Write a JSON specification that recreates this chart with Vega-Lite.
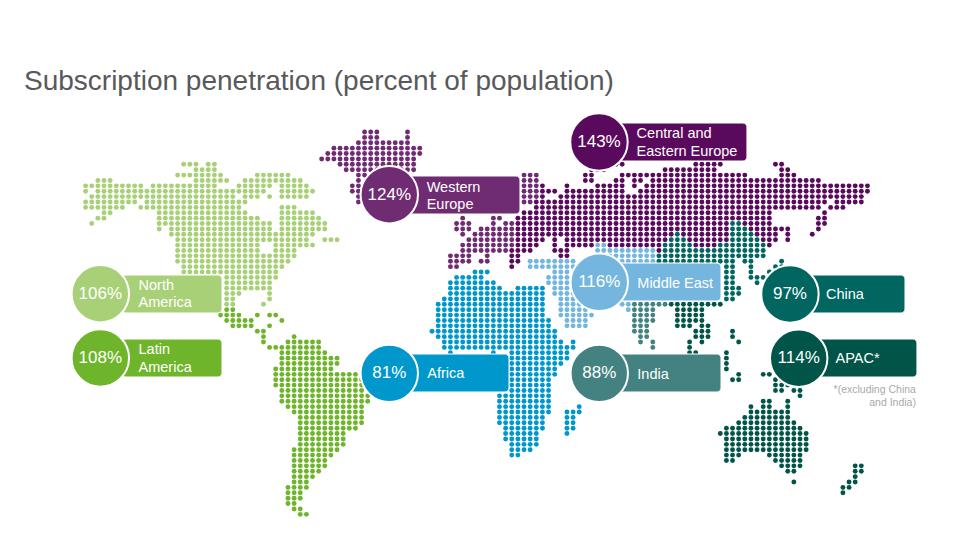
{"$schema":"https://vega.github.io/schema/vega-lite/v6.json","width":970,"height":546,"padding":0,"autosize":{"type":"none"},"background":"white","config":{"view":{"stroke":null},"font":"Liberation Sans"},"title":{"text":"Subscription penetration (percent of population)","anchor":"start","frame":"group","orient":"top","offset":-118,"dx":24,"baseline":"alphabetic","font":"Liberation Sans","fontSize":28,"fontWeight":"normal","color":"#58595b"},"datasets":{"NA":[{"c":16,"r":6},{"c":17,"r":6},{"c":18,"r":6},{"c":20,"r":6},{"c":21,"r":6},{"c":18,"r":7},{"c":19,"r":7},{"c":20,"r":7},{"c":21,"r":7},{"c":15,"r":8},{"c":16,"r":8},{"c":17,"r":8},{"c":18,"r":8},{"c":19,"r":8},{"c":20,"r":8},{"c":21,"r":8},{"c":22,"r":8},{"c":28,"r":8},{"c":29,"r":8},{"c":30,"r":8},{"c":31,"r":8},{"c":32,"r":8},{"c":33,"r":8},{"c":2,"r":9},{"c":3,"r":9},{"c":4,"r":9},{"c":18,"r":9},{"c":19,"r":9},{"c":20,"r":9},{"c":21,"r":9},{"c":22,"r":9},{"c":23,"r":9},{"c":26,"r":9},{"c":27,"r":9},{"c":28,"r":9},{"c":29,"r":9},{"c":30,"r":9},{"c":31,"r":9},{"c":32,"r":9},{"c":33,"r":9},{"c":34,"r":9},{"c":35,"r":9},{"c":0,"r":10},{"c":1,"r":10},{"c":2,"r":10},{"c":3,"r":10},{"c":4,"r":10},{"c":5,"r":10},{"c":6,"r":10},{"c":7,"r":10},{"c":8,"r":10},{"c":9,"r":10},{"c":11,"r":10},{"c":12,"r":10},{"c":13,"r":10},{"c":14,"r":10},{"c":15,"r":10},{"c":16,"r":10},{"c":17,"r":10},{"c":18,"r":10},{"c":19,"r":10},{"c":20,"r":10},{"c":21,"r":10},{"c":25,"r":10},{"c":26,"r":10},{"c":27,"r":10},{"c":28,"r":10},{"c":29,"r":10},{"c":30,"r":10},{"c":32,"r":10},{"c":33,"r":10},{"c":34,"r":10},{"c":35,"r":10},{"c":36,"r":10},{"c":0,"r":11},{"c":2,"r":11},{"c":3,"r":11},{"c":4,"r":11},{"c":5,"r":11},{"c":6,"r":11},{"c":7,"r":11},{"c":8,"r":11},{"c":9,"r":11},{"c":10,"r":11},{"c":11,"r":11},{"c":12,"r":11},{"c":13,"r":11},{"c":14,"r":11},{"c":15,"r":11},{"c":16,"r":11},{"c":17,"r":11},{"c":18,"r":11},{"c":19,"r":11},{"c":20,"r":11},{"c":21,"r":11},{"c":22,"r":11},{"c":23,"r":11},{"c":24,"r":11},{"c":25,"r":11},{"c":26,"r":11},{"c":27,"r":11},{"c":28,"r":11},{"c":29,"r":11},{"c":32,"r":11},{"c":33,"r":11},{"c":34,"r":11},{"c":35,"r":11},{"c":36,"r":11},{"c":37,"r":11},{"c":1,"r":12},{"c":2,"r":12},{"c":3,"r":12},{"c":4,"r":12},{"c":5,"r":12},{"c":6,"r":12},{"c":7,"r":12},{"c":8,"r":12},{"c":9,"r":12},{"c":10,"r":12},{"c":11,"r":12},{"c":12,"r":12},{"c":13,"r":12},{"c":14,"r":12},{"c":15,"r":12},{"c":16,"r":12},{"c":17,"r":12},{"c":18,"r":12},{"c":19,"r":12},{"c":20,"r":12},{"c":21,"r":12},{"c":22,"r":12},{"c":23,"r":12},{"c":24,"r":12},{"c":26,"r":12},{"c":27,"r":12},{"c":28,"r":12},{"c":30,"r":12},{"c":32,"r":12},{"c":33,"r":12},{"c":34,"r":12},{"c":35,"r":12},{"c":36,"r":12},{"c":0,"r":13},{"c":1,"r":13},{"c":2,"r":13},{"c":3,"r":13},{"c":4,"r":13},{"c":5,"r":13},{"c":6,"r":13},{"c":7,"r":13},{"c":8,"r":13},{"c":10,"r":13},{"c":11,"r":13},{"c":12,"r":13},{"c":13,"r":13},{"c":14,"r":13},{"c":15,"r":13},{"c":16,"r":13},{"c":17,"r":13},{"c":18,"r":13},{"c":19,"r":13},{"c":20,"r":13},{"c":21,"r":13},{"c":22,"r":13},{"c":23,"r":13},{"c":24,"r":13},{"c":25,"r":13},{"c":26,"r":13},{"c":0,"r":14},{"c":1,"r":14},{"c":2,"r":14},{"c":3,"r":14},{"c":4,"r":14},{"c":5,"r":14},{"c":6,"r":14},{"c":9,"r":14},{"c":10,"r":14},{"c":11,"r":14},{"c":12,"r":14},{"c":13,"r":14},{"c":14,"r":14},{"c":15,"r":14},{"c":16,"r":14},{"c":17,"r":14},{"c":18,"r":14},{"c":19,"r":14},{"c":20,"r":14},{"c":21,"r":14},{"c":22,"r":14},{"c":23,"r":14},{"c":24,"r":14},{"c":25,"r":14},{"c":32,"r":14},{"c":33,"r":14},{"c":34,"r":14},{"c":3,"r":15},{"c":4,"r":15},{"c":12,"r":15},{"c":13,"r":15},{"c":14,"r":15},{"c":15,"r":15},{"c":16,"r":15},{"c":17,"r":15},{"c":18,"r":15},{"c":19,"r":15},{"c":20,"r":15},{"c":21,"r":15},{"c":22,"r":15},{"c":23,"r":15},{"c":24,"r":15},{"c":25,"r":15},{"c":26,"r":15},{"c":32,"r":15},{"c":33,"r":15},{"c":34,"r":15},{"c":35,"r":15},{"c":36,"r":15},{"c":37,"r":15},{"c":2,"r":16},{"c":3,"r":16},{"c":12,"r":16},{"c":13,"r":16},{"c":14,"r":16},{"c":15,"r":16},{"c":16,"r":16},{"c":17,"r":16},{"c":18,"r":16},{"c":19,"r":16},{"c":20,"r":16},{"c":21,"r":16},{"c":22,"r":16},{"c":23,"r":16},{"c":24,"r":16},{"c":25,"r":16},{"c":26,"r":16},{"c":27,"r":16},{"c":28,"r":16},{"c":32,"r":16},{"c":33,"r":16},{"c":34,"r":16},{"c":35,"r":16},{"c":36,"r":16},{"c":37,"r":16},{"c":38,"r":16},{"c":1,"r":17},{"c":12,"r":17},{"c":13,"r":17},{"c":14,"r":17},{"c":15,"r":17},{"c":16,"r":17},{"c":17,"r":17},{"c":18,"r":17},{"c":19,"r":17},{"c":20,"r":17},{"c":21,"r":17},{"c":22,"r":17},{"c":23,"r":17},{"c":24,"r":17},{"c":25,"r":17},{"c":26,"r":17},{"c":27,"r":17},{"c":28,"r":17},{"c":29,"r":17},{"c":30,"r":17},{"c":32,"r":17},{"c":33,"r":17},{"c":34,"r":17},{"c":35,"r":17},{"c":36,"r":17},{"c":37,"r":17},{"c":38,"r":17},{"c":39,"r":17},{"c":12,"r":18},{"c":14,"r":18},{"c":15,"r":18},{"c":16,"r":18},{"c":17,"r":18},{"c":18,"r":18},{"c":19,"r":18},{"c":20,"r":18},{"c":21,"r":18},{"c":22,"r":18},{"c":23,"r":18},{"c":24,"r":18},{"c":25,"r":18},{"c":26,"r":18},{"c":27,"r":18},{"c":28,"r":18},{"c":29,"r":18},{"c":30,"r":18},{"c":32,"r":18},{"c":33,"r":18},{"c":34,"r":18},{"c":35,"r":18},{"c":36,"r":18},{"c":37,"r":18},{"c":38,"r":18},{"c":39,"r":18},{"c":14,"r":19},{"c":15,"r":19},{"c":16,"r":19},{"c":17,"r":19},{"c":18,"r":19},{"c":19,"r":19},{"c":20,"r":19},{"c":21,"r":19},{"c":22,"r":19},{"c":23,"r":19},{"c":24,"r":19},{"c":25,"r":19},{"c":26,"r":19},{"c":27,"r":19},{"c":28,"r":19},{"c":29,"r":19},{"c":30,"r":19},{"c":31,"r":19},{"c":32,"r":19},{"c":33,"r":19},{"c":34,"r":19},{"c":35,"r":19},{"c":36,"r":19},{"c":37,"r":19},{"c":15,"r":20},{"c":16,"r":20},{"c":17,"r":20},{"c":18,"r":20},{"c":19,"r":20},{"c":20,"r":20},{"c":21,"r":20},{"c":22,"r":20},{"c":23,"r":20},{"c":24,"r":20},{"c":25,"r":20},{"c":26,"r":20},{"c":27,"r":20},{"c":28,"r":20},{"c":29,"r":20},{"c":30,"r":20},{"c":31,"r":20},{"c":32,"r":20},{"c":33,"r":20},{"c":34,"r":20},{"c":35,"r":20},{"c":36,"r":20},{"c":39,"r":20},{"c":40,"r":20},{"c":41,"r":20},{"c":15,"r":21},{"c":16,"r":21},{"c":17,"r":21},{"c":18,"r":21},{"c":19,"r":21},{"c":20,"r":21},{"c":21,"r":21},{"c":22,"r":21},{"c":23,"r":21},{"c":24,"r":21},{"c":25,"r":21},{"c":26,"r":21},{"c":27,"r":21},{"c":28,"r":21},{"c":31,"r":21},{"c":32,"r":21},{"c":33,"r":21},{"c":34,"r":21},{"c":35,"r":21},{"c":36,"r":21},{"c":37,"r":21},{"c":15,"r":22},{"c":16,"r":22},{"c":17,"r":22},{"c":18,"r":22},{"c":19,"r":22},{"c":20,"r":22},{"c":21,"r":22},{"c":22,"r":22},{"c":23,"r":22},{"c":24,"r":22},{"c":25,"r":22},{"c":26,"r":22},{"c":27,"r":22},{"c":28,"r":22},{"c":31,"r":22},{"c":32,"r":22},{"c":33,"r":22},{"c":34,"r":22},{"c":15,"r":23},{"c":16,"r":23},{"c":17,"r":23},{"c":18,"r":23},{"c":19,"r":23},{"c":20,"r":23},{"c":21,"r":23},{"c":22,"r":23},{"c":23,"r":23},{"c":24,"r":23},{"c":25,"r":23},{"c":26,"r":23},{"c":27,"r":23},{"c":28,"r":23},{"c":29,"r":23},{"c":30,"r":23},{"c":31,"r":23},{"c":32,"r":23},{"c":33,"r":23},{"c":34,"r":23},{"c":15,"r":24},{"c":16,"r":24},{"c":17,"r":24},{"c":18,"r":24},{"c":19,"r":24},{"c":20,"r":24},{"c":21,"r":24},{"c":22,"r":24},{"c":23,"r":24},{"c":24,"r":24},{"c":25,"r":24},{"c":26,"r":24},{"c":27,"r":24},{"c":28,"r":24},{"c":29,"r":24},{"c":30,"r":24},{"c":31,"r":24},{"c":32,"r":24},{"c":33,"r":24},{"c":16,"r":25},{"c":17,"r":25},{"c":18,"r":25},{"c":19,"r":25},{"c":20,"r":25},{"c":21,"r":25},{"c":22,"r":25},{"c":23,"r":25},{"c":24,"r":25},{"c":25,"r":25},{"c":26,"r":25},{"c":27,"r":25},{"c":28,"r":25},{"c":29,"r":25},{"c":30,"r":25},{"c":31,"r":25},{"c":32,"r":25},{"c":16,"r":26},{"c":17,"r":26},{"c":18,"r":26},{"c":19,"r":26},{"c":20,"r":26},{"c":21,"r":26},{"c":22,"r":26},{"c":23,"r":26},{"c":24,"r":26},{"c":25,"r":26},{"c":26,"r":26},{"c":27,"r":26},{"c":28,"r":26},{"c":29,"r":26},{"c":30,"r":26},{"c":31,"r":26},{"c":23,"r":27},{"c":24,"r":27},{"c":25,"r":27},{"c":26,"r":27},{"c":27,"r":27},{"c":28,"r":27},{"c":29,"r":27},{"c":30,"r":27},{"c":31,"r":27},{"c":23,"r":28},{"c":24,"r":28},{"c":25,"r":28},{"c":26,"r":28},{"c":27,"r":28},{"c":28,"r":28},{"c":29,"r":28},{"c":30,"r":28},{"c":23,"r":29},{"c":24,"r":29},{"c":25,"r":29},{"c":26,"r":29},{"c":27,"r":29},{"c":28,"r":29},{"c":29,"r":29},{"c":30,"r":29},{"c":23,"r":30},{"c":24,"r":30},{"c":25,"r":30},{"c":30,"r":30},{"c":23,"r":31},{"c":24,"r":31},{"c":30,"r":31},{"c":23,"r":32},{"c":24,"r":32},{"c":29,"r":32}],"LA":[{"c":23,"r":33},{"c":24,"r":33},{"c":22,"r":34},{"c":23,"r":34},{"c":24,"r":34},{"c":25,"r":34},{"c":28,"r":34},{"c":30,"r":34},{"c":31,"r":34},{"c":23,"r":35},{"c":24,"r":35},{"c":25,"r":35},{"c":26,"r":35},{"c":27,"r":35},{"c":32,"r":35},{"c":24,"r":36},{"c":25,"r":36},{"c":26,"r":36},{"c":27,"r":36},{"c":30,"r":36},{"c":28,"r":37},{"c":29,"r":37},{"c":29,"r":38},{"c":34,"r":38},{"c":29,"r":39},{"c":33,"r":39},{"c":34,"r":39},{"c":35,"r":39},{"c":36,"r":39},{"c":37,"r":39},{"c":38,"r":39},{"c":30,"r":40},{"c":31,"r":40},{"c":32,"r":40},{"c":33,"r":40},{"c":34,"r":40},{"c":35,"r":40},{"c":36,"r":40},{"c":37,"r":40},{"c":38,"r":40},{"c":32,"r":41},{"c":33,"r":41},{"c":34,"r":41},{"c":35,"r":41},{"c":36,"r":41},{"c":37,"r":41},{"c":38,"r":41},{"c":39,"r":41},{"c":32,"r":42},{"c":33,"r":42},{"c":34,"r":42},{"c":35,"r":42},{"c":36,"r":42},{"c":37,"r":42},{"c":38,"r":42},{"c":39,"r":42},{"c":40,"r":42},{"c":41,"r":42},{"c":32,"r":43},{"c":33,"r":43},{"c":34,"r":43},{"c":35,"r":43},{"c":36,"r":43},{"c":37,"r":43},{"c":38,"r":43},{"c":39,"r":43},{"c":40,"r":43},{"c":41,"r":43},{"c":31,"r":44},{"c":32,"r":44},{"c":33,"r":44},{"c":34,"r":44},{"c":35,"r":44},{"c":36,"r":44},{"c":37,"r":44},{"c":38,"r":44},{"c":39,"r":44},{"c":40,"r":44},{"c":31,"r":45},{"c":32,"r":45},{"c":33,"r":45},{"c":34,"r":45},{"c":35,"r":45},{"c":36,"r":45},{"c":37,"r":45},{"c":38,"r":45},{"c":39,"r":45},{"c":40,"r":45},{"c":41,"r":45},{"c":42,"r":45},{"c":43,"r":45},{"c":44,"r":45},{"c":31,"r":46},{"c":32,"r":46},{"c":33,"r":46},{"c":34,"r":46},{"c":35,"r":46},{"c":36,"r":46},{"c":37,"r":46},{"c":38,"r":46},{"c":39,"r":46},{"c":40,"r":46},{"c":41,"r":46},{"c":42,"r":46},{"c":43,"r":46},{"c":44,"r":46},{"c":45,"r":46},{"c":31,"r":47},{"c":32,"r":47},{"c":33,"r":47},{"c":34,"r":47},{"c":35,"r":47},{"c":36,"r":47},{"c":37,"r":47},{"c":38,"r":47},{"c":39,"r":47},{"c":40,"r":47},{"c":41,"r":47},{"c":42,"r":47},{"c":43,"r":47},{"c":44,"r":47},{"c":45,"r":47},{"c":32,"r":48},{"c":33,"r":48},{"c":34,"r":48},{"c":35,"r":48},{"c":36,"r":48},{"c":37,"r":48},{"c":38,"r":48},{"c":39,"r":48},{"c":40,"r":48},{"c":41,"r":48},{"c":42,"r":48},{"c":43,"r":48},{"c":44,"r":48},{"c":45,"r":48},{"c":32,"r":49},{"c":33,"r":49},{"c":34,"r":49},{"c":35,"r":49},{"c":36,"r":49},{"c":37,"r":49},{"c":38,"r":49},{"c":39,"r":49},{"c":40,"r":49},{"c":41,"r":49},{"c":42,"r":49},{"c":43,"r":49},{"c":44,"r":49},{"c":45,"r":49},{"c":46,"r":49},{"c":32,"r":50},{"c":33,"r":50},{"c":34,"r":50},{"c":35,"r":50},{"c":36,"r":50},{"c":37,"r":50},{"c":38,"r":50},{"c":39,"r":50},{"c":40,"r":50},{"c":41,"r":50},{"c":42,"r":50},{"c":43,"r":50},{"c":44,"r":50},{"c":45,"r":50},{"c":46,"r":50},{"c":33,"r":51},{"c":34,"r":51},{"c":35,"r":51},{"c":36,"r":51},{"c":37,"r":51},{"c":38,"r":51},{"c":39,"r":51},{"c":40,"r":51},{"c":41,"r":51},{"c":42,"r":51},{"c":43,"r":51},{"c":44,"r":51},{"c":45,"r":51},{"c":34,"r":52},{"c":35,"r":52},{"c":36,"r":52},{"c":37,"r":52},{"c":38,"r":52},{"c":39,"r":52},{"c":40,"r":52},{"c":41,"r":52},{"c":42,"r":52},{"c":43,"r":52},{"c":44,"r":52},{"c":45,"r":52},{"c":35,"r":53},{"c":36,"r":53},{"c":37,"r":53},{"c":38,"r":53},{"c":39,"r":53},{"c":40,"r":53},{"c":41,"r":53},{"c":42,"r":53},{"c":43,"r":53},{"c":44,"r":53},{"c":45,"r":53},{"c":35,"r":54},{"c":36,"r":54},{"c":37,"r":54},{"c":38,"r":54},{"c":39,"r":54},{"c":40,"r":54},{"c":41,"r":54},{"c":42,"r":54},{"c":43,"r":54},{"c":44,"r":54},{"c":45,"r":54},{"c":35,"r":55},{"c":36,"r":55},{"c":37,"r":55},{"c":38,"r":55},{"c":39,"r":55},{"c":40,"r":55},{"c":41,"r":55},{"c":42,"r":55},{"c":43,"r":55},{"c":44,"r":55},{"c":35,"r":56},{"c":36,"r":56},{"c":37,"r":56},{"c":38,"r":56},{"c":39,"r":56},{"c":40,"r":56},{"c":41,"r":56},{"c":42,"r":56},{"c":35,"r":57},{"c":36,"r":57},{"c":37,"r":57},{"c":38,"r":57},{"c":39,"r":57},{"c":40,"r":57},{"c":41,"r":57},{"c":42,"r":57},{"c":35,"r":58},{"c":36,"r":58},{"c":37,"r":58},{"c":38,"r":58},{"c":39,"r":58},{"c":40,"r":58},{"c":41,"r":58},{"c":42,"r":58},{"c":34,"r":59},{"c":35,"r":59},{"c":36,"r":59},{"c":37,"r":59},{"c":38,"r":59},{"c":39,"r":59},{"c":40,"r":59},{"c":41,"r":59},{"c":34,"r":60},{"c":35,"r":60},{"c":36,"r":60},{"c":37,"r":60},{"c":38,"r":60},{"c":39,"r":60},{"c":40,"r":60},{"c":34,"r":61},{"c":35,"r":61},{"c":36,"r":61},{"c":37,"r":61},{"c":38,"r":61},{"c":39,"r":61},{"c":34,"r":62},{"c":35,"r":62},{"c":36,"r":62},{"c":37,"r":62},{"c":38,"r":62},{"c":39,"r":62},{"c":34,"r":63},{"c":35,"r":63},{"c":36,"r":63},{"c":37,"r":63},{"c":38,"r":63},{"c":34,"r":64},{"c":35,"r":64},{"c":36,"r":64},{"c":37,"r":64},{"c":34,"r":65},{"c":35,"r":65},{"c":36,"r":65},{"c":33,"r":66},{"c":34,"r":66},{"c":35,"r":66},{"c":36,"r":66},{"c":33,"r":67},{"c":34,"r":67},{"c":35,"r":67},{"c":33,"r":68},{"c":34,"r":68},{"c":35,"r":68},{"c":33,"r":69},{"c":34,"r":69},{"c":34,"r":70},{"c":35,"r":70},{"c":35,"r":71},{"c":36,"r":71}],"WE":[{"c":45,"r":0},{"c":46,"r":0},{"c":47,"r":0},{"c":52,"r":0},{"c":45,"r":1},{"c":46,"r":1},{"c":47,"r":1},{"c":52,"r":1},{"c":44,"r":2},{"c":45,"r":2},{"c":46,"r":2},{"c":47,"r":2},{"c":48,"r":2},{"c":49,"r":2},{"c":50,"r":2},{"c":51,"r":2},{"c":52,"r":2},{"c":40,"r":3},{"c":41,"r":3},{"c":42,"r":3},{"c":43,"r":3},{"c":44,"r":3},{"c":45,"r":3},{"c":46,"r":3},{"c":47,"r":3},{"c":48,"r":3},{"c":49,"r":3},{"c":50,"r":3},{"c":51,"r":3},{"c":52,"r":3},{"c":53,"r":3},{"c":54,"r":3},{"c":39,"r":4},{"c":40,"r":4},{"c":41,"r":4},{"c":42,"r":4},{"c":43,"r":4},{"c":44,"r":4},{"c":45,"r":4},{"c":46,"r":4},{"c":47,"r":4},{"c":48,"r":4},{"c":49,"r":4},{"c":50,"r":4},{"c":51,"r":4},{"c":52,"r":4},{"c":53,"r":4},{"c":54,"r":4},{"c":38,"r":5},{"c":39,"r":5},{"c":40,"r":5},{"c":41,"r":5},{"c":42,"r":5},{"c":43,"r":5},{"c":44,"r":5},{"c":45,"r":5},{"c":46,"r":5},{"c":47,"r":5},{"c":48,"r":5},{"c":49,"r":5},{"c":50,"r":5},{"c":51,"r":5},{"c":52,"r":5},{"c":53,"r":5},{"c":41,"r":6},{"c":42,"r":6},{"c":43,"r":6},{"c":44,"r":6},{"c":45,"r":6},{"c":46,"r":6},{"c":47,"r":6},{"c":48,"r":6},{"c":49,"r":6},{"c":50,"r":6},{"c":51,"r":6},{"c":52,"r":6},{"c":53,"r":6},{"c":42,"r":7},{"c":43,"r":7},{"c":44,"r":7},{"c":45,"r":7},{"c":46,"r":7},{"c":47,"r":7},{"c":51,"r":7},{"c":52,"r":7},{"c":53,"r":7},{"c":44,"r":8},{"c":45,"r":8},{"c":71,"r":8},{"c":72,"r":8},{"c":73,"r":8},{"c":44,"r":9},{"c":71,"r":9},{"c":72,"r":9},{"c":73,"r":9},{"c":43,"r":10},{"c":44,"r":10},{"c":71,"r":10},{"c":72,"r":10},{"c":73,"r":10},{"c":43,"r":11},{"c":44,"r":11},{"c":71,"r":11},{"c":72,"r":11},{"c":73,"r":11},{"c":44,"r":12},{"c":71,"r":12},{"c":72,"r":12},{"c":73,"r":12},{"c":44,"r":13},{"c":71,"r":13},{"c":72,"r":13},{"c":61,"r":16},{"c":66,"r":16},{"c":67,"r":16},{"c":60,"r":17},{"c":61,"r":17},{"c":62,"r":17},{"c":66,"r":17},{"c":68,"r":17},{"c":69,"r":17},{"c":60,"r":18},{"c":61,"r":18},{"c":62,"r":18},{"c":64,"r":18},{"c":65,"r":18},{"c":66,"r":18},{"c":67,"r":18},{"c":68,"r":18},{"c":69,"r":18},{"c":61,"r":19},{"c":63,"r":19},{"c":64,"r":19},{"c":65,"r":19},{"c":66,"r":19},{"c":67,"r":19},{"c":68,"r":19},{"c":69,"r":19},{"c":62,"r":20},{"c":63,"r":20},{"c":64,"r":20},{"c":65,"r":20},{"c":66,"r":20},{"c":67,"r":20},{"c":68,"r":20},{"c":69,"r":20},{"c":61,"r":21},{"c":62,"r":21},{"c":63,"r":21},{"c":64,"r":21},{"c":65,"r":21},{"c":66,"r":21},{"c":67,"r":21},{"c":68,"r":21},{"c":69,"r":21},{"c":61,"r":22},{"c":62,"r":22},{"c":63,"r":22},{"c":64,"r":22},{"c":65,"r":22},{"c":66,"r":22},{"c":67,"r":22},{"c":68,"r":22},{"c":59,"r":23},{"c":60,"r":23},{"c":61,"r":23},{"c":62,"r":23},{"c":65,"r":23},{"c":59,"r":24},{"c":60,"r":24},{"c":61,"r":24},{"c":62,"r":24},{"c":64,"r":24},{"c":65,"r":24},{"c":59,"r":25},{"c":60,"r":25}],"AF":[{"c":63,"r":26},{"c":64,"r":26},{"c":65,"r":26},{"c":60,"r":27},{"c":61,"r":27},{"c":62,"r":27},{"c":63,"r":27},{"c":64,"r":27},{"c":59,"r":28},{"c":60,"r":28},{"c":61,"r":28},{"c":62,"r":28},{"c":63,"r":28},{"c":64,"r":28},{"c":65,"r":28},{"c":66,"r":28},{"c":59,"r":29},{"c":60,"r":29},{"c":61,"r":29},{"c":62,"r":29},{"c":63,"r":29},{"c":64,"r":29},{"c":65,"r":29},{"c":66,"r":29},{"c":67,"r":29},{"c":70,"r":29},{"c":71,"r":29},{"c":72,"r":29},{"c":73,"r":29},{"c":74,"r":29},{"c":59,"r":30},{"c":60,"r":30},{"c":61,"r":30},{"c":62,"r":30},{"c":63,"r":30},{"c":64,"r":30},{"c":65,"r":30},{"c":66,"r":30},{"c":67,"r":30},{"c":68,"r":30},{"c":69,"r":30},{"c":70,"r":30},{"c":71,"r":30},{"c":72,"r":30},{"c":73,"r":30},{"c":74,"r":30},{"c":58,"r":31},{"c":59,"r":31},{"c":60,"r":31},{"c":61,"r":31},{"c":62,"r":31},{"c":63,"r":31},{"c":64,"r":31},{"c":65,"r":31},{"c":66,"r":31},{"c":67,"r":31},{"c":68,"r":31},{"c":69,"r":31},{"c":70,"r":31},{"c":71,"r":31},{"c":72,"r":31},{"c":73,"r":31},{"c":74,"r":31},{"c":57,"r":32},{"c":58,"r":32},{"c":59,"r":32},{"c":60,"r":32},{"c":61,"r":32},{"c":62,"r":32},{"c":63,"r":32},{"c":64,"r":32},{"c":65,"r":32},{"c":66,"r":32},{"c":67,"r":32},{"c":68,"r":32},{"c":69,"r":32},{"c":70,"r":32},{"c":71,"r":32},{"c":72,"r":32},{"c":73,"r":32},{"c":74,"r":32},{"c":57,"r":33},{"c":58,"r":33},{"c":59,"r":33},{"c":60,"r":33},{"c":61,"r":33},{"c":62,"r":33},{"c":63,"r":33},{"c":64,"r":33},{"c":65,"r":33},{"c":66,"r":33},{"c":67,"r":33},{"c":68,"r":33},{"c":69,"r":33},{"c":70,"r":33},{"c":71,"r":33},{"c":72,"r":33},{"c":73,"r":33},{"c":74,"r":33},{"c":57,"r":34},{"c":58,"r":34},{"c":59,"r":34},{"c":60,"r":34},{"c":61,"r":34},{"c":62,"r":34},{"c":63,"r":34},{"c":64,"r":34},{"c":65,"r":34},{"c":66,"r":34},{"c":67,"r":34},{"c":68,"r":34},{"c":69,"r":34},{"c":70,"r":34},{"c":71,"r":34},{"c":72,"r":34},{"c":73,"r":34},{"c":74,"r":34},{"c":57,"r":35},{"c":58,"r":35},{"c":59,"r":35},{"c":60,"r":35},{"c":61,"r":35},{"c":62,"r":35},{"c":63,"r":35},{"c":64,"r":35},{"c":65,"r":35},{"c":66,"r":35},{"c":67,"r":35},{"c":68,"r":35},{"c":69,"r":35},{"c":70,"r":35},{"c":71,"r":35},{"c":72,"r":35},{"c":73,"r":35},{"c":74,"r":35},{"c":75,"r":35},{"c":57,"r":36},{"c":58,"r":36},{"c":59,"r":36},{"c":60,"r":36},{"c":61,"r":36},{"c":62,"r":36},{"c":63,"r":36},{"c":64,"r":36},{"c":65,"r":36},{"c":66,"r":36},{"c":67,"r":36},{"c":68,"r":36},{"c":69,"r":36},{"c":70,"r":36},{"c":71,"r":36},{"c":72,"r":36},{"c":73,"r":36},{"c":74,"r":36},{"c":75,"r":36},{"c":56,"r":37},{"c":57,"r":37},{"c":58,"r":37},{"c":59,"r":37},{"c":60,"r":37},{"c":61,"r":37},{"c":62,"r":37},{"c":63,"r":37},{"c":64,"r":37},{"c":65,"r":37},{"c":66,"r":37},{"c":67,"r":37},{"c":68,"r":37},{"c":69,"r":37},{"c":70,"r":37},{"c":71,"r":37},{"c":72,"r":37},{"c":73,"r":37},{"c":74,"r":37},{"c":75,"r":37},{"c":76,"r":37},{"c":57,"r":38},{"c":58,"r":38},{"c":59,"r":38},{"c":60,"r":38},{"c":61,"r":38},{"c":62,"r":38},{"c":63,"r":38},{"c":64,"r":38},{"c":65,"r":38},{"c":66,"r":38},{"c":67,"r":38},{"c":68,"r":38},{"c":69,"r":38},{"c":70,"r":38},{"c":71,"r":38},{"c":72,"r":38},{"c":73,"r":38},{"c":74,"r":38},{"c":75,"r":38},{"c":76,"r":38},{"c":58,"r":39},{"c":59,"r":39},{"c":60,"r":39},{"c":61,"r":39},{"c":62,"r":39},{"c":63,"r":39},{"c":64,"r":39},{"c":65,"r":39},{"c":66,"r":39},{"c":67,"r":39},{"c":68,"r":39},{"c":69,"r":39},{"c":70,"r":39},{"c":71,"r":39},{"c":72,"r":39},{"c":73,"r":39},{"c":74,"r":39},{"c":75,"r":39},{"c":76,"r":39},{"c":77,"r":39},{"c":79,"r":39},{"c":58,"r":40},{"c":59,"r":40},{"c":60,"r":40},{"c":61,"r":40},{"c":62,"r":40},{"c":63,"r":40},{"c":64,"r":40},{"c":65,"r":40},{"c":66,"r":40},{"c":67,"r":40},{"c":68,"r":40},{"c":69,"r":40},{"c":70,"r":40},{"c":71,"r":40},{"c":72,"r":40},{"c":73,"r":40},{"c":74,"r":40},{"c":75,"r":40},{"c":76,"r":40},{"c":77,"r":40},{"c":78,"r":40},{"c":79,"r":40},{"c":59,"r":41},{"c":66,"r":41},{"c":69,"r":41},{"c":70,"r":41},{"c":71,"r":41},{"c":72,"r":41},{"c":73,"r":41},{"c":74,"r":41},{"c":75,"r":41},{"c":76,"r":41},{"c":77,"r":41},{"c":78,"r":41},{"c":69,"r":42},{"c":70,"r":42},{"c":71,"r":42},{"c":72,"r":42},{"c":73,"r":42},{"c":74,"r":42},{"c":75,"r":42},{"c":76,"r":42},{"c":77,"r":42},{"c":78,"r":42},{"c":69,"r":43},{"c":70,"r":43},{"c":71,"r":43},{"c":72,"r":43},{"c":73,"r":43},{"c":74,"r":43},{"c":75,"r":43},{"c":76,"r":43},{"c":77,"r":43},{"c":69,"r":44},{"c":70,"r":44},{"c":71,"r":44},{"c":72,"r":44},{"c":73,"r":44},{"c":74,"r":44},{"c":75,"r":44},{"c":76,"r":44},{"c":69,"r":45},{"c":70,"r":45},{"c":71,"r":45},{"c":72,"r":45},{"c":73,"r":45},{"c":74,"r":45},{"c":75,"r":45},{"c":76,"r":45},{"c":69,"r":46},{"c":70,"r":46},{"c":71,"r":46},{"c":72,"r":46},{"c":73,"r":46},{"c":74,"r":46},{"c":75,"r":46},{"c":69,"r":47},{"c":70,"r":47},{"c":71,"r":47},{"c":72,"r":47},{"c":73,"r":47},{"c":74,"r":47},{"c":75,"r":47},{"c":69,"r":48},{"c":70,"r":48},{"c":71,"r":48},{"c":72,"r":48},{"c":73,"r":48},{"c":74,"r":48},{"c":75,"r":48},{"c":67,"r":49},{"c":68,"r":49},{"c":69,"r":49},{"c":70,"r":49},{"c":71,"r":49},{"c":72,"r":49},{"c":73,"r":49},{"c":74,"r":49},{"c":75,"r":49},{"c":67,"r":50},{"c":68,"r":50},{"c":69,"r":50},{"c":70,"r":50},{"c":71,"r":50},{"c":72,"r":50},{"c":73,"r":50},{"c":74,"r":50},{"c":75,"r":50},{"c":67,"r":51},{"c":68,"r":51},{"c":69,"r":51},{"c":70,"r":51},{"c":71,"r":51},{"c":72,"r":51},{"c":73,"r":51},{"c":74,"r":51},{"c":75,"r":51},{"c":80,"r":51},{"c":67,"r":52},{"c":68,"r":52},{"c":69,"r":52},{"c":70,"r":52},{"c":71,"r":52},{"c":72,"r":52},{"c":73,"r":52},{"c":74,"r":52},{"c":75,"r":52},{"c":78,"r":52},{"c":79,"r":52},{"c":80,"r":52},{"c":67,"r":53},{"c":68,"r":53},{"c":69,"r":53},{"c":70,"r":53},{"c":71,"r":53},{"c":72,"r":53},{"c":73,"r":53},{"c":74,"r":53},{"c":78,"r":53},{"c":79,"r":53},{"c":67,"r":54},{"c":68,"r":54},{"c":69,"r":54},{"c":70,"r":54},{"c":71,"r":54},{"c":72,"r":54},{"c":73,"r":54},{"c":74,"r":54},{"c":78,"r":54},{"c":79,"r":54},{"c":68,"r":55},{"c":69,"r":55},{"c":70,"r":55},{"c":71,"r":55},{"c":72,"r":55},{"c":73,"r":55},{"c":74,"r":55},{"c":78,"r":55},{"c":79,"r":55},{"c":68,"r":56},{"c":69,"r":56},{"c":70,"r":56},{"c":71,"r":56},{"c":72,"r":56},{"c":73,"r":56},{"c":78,"r":56},{"c":68,"r":57},{"c":69,"r":57},{"c":70,"r":57},{"c":71,"r":57},{"c":72,"r":57},{"c":73,"r":57},{"c":69,"r":58},{"c":70,"r":58},{"c":71,"r":58},{"c":72,"r":58},{"c":73,"r":58},{"c":69,"r":59},{"c":70,"r":59},{"c":71,"r":59},{"c":72,"r":59},{"c":69,"r":60},{"c":70,"r":60}],"ME":[{"c":83,"r":21},{"c":84,"r":21},{"c":83,"r":22},{"c":84,"r":22},{"c":85,"r":22},{"c":86,"r":22},{"c":87,"r":22},{"c":88,"r":22},{"c":89,"r":22},{"c":90,"r":22},{"c":91,"r":22},{"c":92,"r":22},{"c":83,"r":23},{"c":84,"r":23},{"c":85,"r":23},{"c":86,"r":23},{"c":87,"r":23},{"c":88,"r":23},{"c":89,"r":23},{"c":90,"r":23},{"c":91,"r":23},{"c":92,"r":23},{"c":72,"r":24},{"c":73,"r":24},{"c":74,"r":24},{"c":75,"r":24},{"c":76,"r":24},{"c":77,"r":24},{"c":78,"r":24},{"c":79,"r":24},{"c":85,"r":24},{"c":86,"r":24},{"c":87,"r":24},{"c":88,"r":24},{"c":89,"r":24},{"c":90,"r":24},{"c":91,"r":24},{"c":92,"r":24},{"c":72,"r":25},{"c":73,"r":25},{"c":74,"r":25},{"c":75,"r":25},{"c":76,"r":25},{"c":77,"r":25},{"c":78,"r":25},{"c":79,"r":25},{"c":76,"r":26},{"c":77,"r":26},{"c":78,"r":26},{"c":75,"r":27},{"c":76,"r":27},{"c":77,"r":27},{"c":78,"r":27},{"c":75,"r":28},{"c":76,"r":28},{"c":77,"r":28},{"c":78,"r":28},{"c":76,"r":29},{"c":77,"r":29},{"c":78,"r":29},{"c":76,"r":30},{"c":77,"r":30},{"c":78,"r":30},{"c":79,"r":30},{"c":77,"r":31},{"c":78,"r":31},{"c":79,"r":31},{"c":77,"r":32},{"c":78,"r":32},{"c":79,"r":32},{"c":80,"r":32},{"c":87,"r":32},{"c":88,"r":32},{"c":77,"r":33},{"c":78,"r":33},{"c":79,"r":33},{"c":80,"r":33},{"c":81,"r":33},{"c":88,"r":33},{"c":77,"r":34},{"c":78,"r":34},{"c":79,"r":34},{"c":80,"r":34},{"c":81,"r":34},{"c":82,"r":34},{"c":78,"r":35},{"c":79,"r":35},{"c":80,"r":35},{"c":81,"r":35},{"c":78,"r":36},{"c":79,"r":36},{"c":80,"r":36},{"c":81,"r":36}],"IN":[{"c":89,"r":32},{"c":90,"r":32},{"c":91,"r":32},{"c":92,"r":32},{"c":93,"r":32},{"c":94,"r":32},{"c":89,"r":33},{"c":90,"r":33},{"c":91,"r":33},{"c":92,"r":33},{"c":89,"r":34},{"c":90,"r":34},{"c":91,"r":34},{"c":92,"r":34},{"c":89,"r":35},{"c":90,"r":35},{"c":91,"r":35},{"c":92,"r":35},{"c":89,"r":36},{"c":90,"r":36},{"c":91,"r":36},{"c":89,"r":37},{"c":90,"r":37},{"c":91,"r":37},{"c":90,"r":38},{"c":91,"r":38},{"c":90,"r":39},{"c":92,"r":39},{"c":92,"r":40}],"CN":[{"c":105,"r":17},{"c":106,"r":17},{"c":105,"r":18},{"c":106,"r":18},{"c":107,"r":18},{"c":96,"r":19},{"c":105,"r":19},{"c":106,"r":19},{"c":107,"r":19},{"c":108,"r":19},{"c":95,"r":20},{"c":96,"r":20},{"c":97,"r":20},{"c":105,"r":20},{"c":106,"r":20},{"c":107,"r":20},{"c":108,"r":20},{"c":109,"r":20},{"c":94,"r":21},{"c":95,"r":21},{"c":96,"r":21},{"c":97,"r":21},{"c":98,"r":21},{"c":103,"r":21},{"c":104,"r":21},{"c":105,"r":21},{"c":106,"r":21},{"c":107,"r":21},{"c":108,"r":21},{"c":109,"r":21},{"c":110,"r":21},{"c":94,"r":22},{"c":95,"r":22},{"c":96,"r":22},{"c":97,"r":22},{"c":98,"r":22},{"c":99,"r":22},{"c":100,"r":22},{"c":101,"r":22},{"c":102,"r":22},{"c":103,"r":22},{"c":104,"r":22},{"c":105,"r":22},{"c":106,"r":22},{"c":107,"r":22},{"c":108,"r":22},{"c":109,"r":22},{"c":110,"r":22},{"c":93,"r":23},{"c":94,"r":23},{"c":95,"r":23},{"c":96,"r":23},{"c":97,"r":23},{"c":98,"r":23},{"c":99,"r":23},{"c":100,"r":23},{"c":101,"r":23},{"c":102,"r":23},{"c":103,"r":23},{"c":104,"r":23},{"c":105,"r":23},{"c":106,"r":23},{"c":107,"r":23},{"c":108,"r":23},{"c":109,"r":23},{"c":110,"r":23},{"c":93,"r":24},{"c":94,"r":24},{"c":95,"r":24},{"c":96,"r":24},{"c":97,"r":24},{"c":98,"r":24},{"c":99,"r":24},{"c":100,"r":24},{"c":101,"r":24},{"c":102,"r":24},{"c":103,"r":24},{"c":104,"r":24},{"c":105,"r":24},{"c":107,"r":24},{"c":108,"r":24},{"c":113,"r":24},{"c":104,"r":25},{"c":105,"r":25},{"c":108,"r":25},{"c":112,"r":25},{"c":113,"r":25},{"c":104,"r":26},{"c":105,"r":26},{"c":108,"r":26},{"c":111,"r":26},{"c":112,"r":26},{"c":104,"r":27},{"c":105,"r":27},{"c":108,"r":27},{"c":109,"r":27},{"c":110,"r":27},{"c":104,"r":28},{"c":105,"r":28},{"c":109,"r":28},{"c":104,"r":29},{"c":105,"r":29},{"c":106,"r":29},{"c":104,"r":30},{"c":105,"r":30},{"c":106,"r":30},{"c":104,"r":31},{"c":105,"r":31}],"CE":[{"c":85,"r":6},{"c":86,"r":6},{"c":87,"r":6},{"c":99,"r":6},{"c":100,"r":6},{"c":101,"r":6},{"c":102,"r":6},{"c":103,"r":6},{"c":112,"r":6},{"c":113,"r":6},{"c":82,"r":7},{"c":83,"r":7},{"c":84,"r":7},{"c":94,"r":7},{"c":95,"r":7},{"c":96,"r":7},{"c":97,"r":7},{"c":98,"r":7},{"c":99,"r":7},{"c":100,"r":7},{"c":101,"r":7},{"c":102,"r":7},{"c":113,"r":7},{"c":114,"r":7},{"c":81,"r":8},{"c":82,"r":8},{"c":87,"r":8},{"c":88,"r":8},{"c":89,"r":8},{"c":90,"r":8},{"c":91,"r":8},{"c":92,"r":8},{"c":93,"r":8},{"c":94,"r":8},{"c":95,"r":8},{"c":96,"r":8},{"c":97,"r":8},{"c":98,"r":8},{"c":99,"r":8},{"c":100,"r":8},{"c":101,"r":8},{"c":102,"r":8},{"c":103,"r":8},{"c":104,"r":8},{"c":105,"r":8},{"c":106,"r":8},{"c":107,"r":8},{"c":113,"r":8},{"c":114,"r":8},{"c":115,"r":8},{"c":81,"r":9},{"c":82,"r":9},{"c":86,"r":9},{"c":87,"r":9},{"c":89,"r":9},{"c":90,"r":9},{"c":92,"r":9},{"c":93,"r":9},{"c":94,"r":9},{"c":95,"r":9},{"c":96,"r":9},{"c":97,"r":9},{"c":98,"r":9},{"c":99,"r":9},{"c":100,"r":9},{"c":101,"r":9},{"c":102,"r":9},{"c":103,"r":9},{"c":104,"r":9},{"c":105,"r":9},{"c":106,"r":9},{"c":107,"r":9},{"c":108,"r":9},{"c":109,"r":9},{"c":110,"r":9},{"c":111,"r":9},{"c":112,"r":9},{"c":113,"r":9},{"c":114,"r":9},{"c":115,"r":9},{"c":116,"r":9},{"c":117,"r":9},{"c":118,"r":9},{"c":119,"r":9},{"c":74,"r":10},{"c":78,"r":10},{"c":83,"r":10},{"c":84,"r":10},{"c":85,"r":10},{"c":86,"r":10},{"c":87,"r":10},{"c":89,"r":10},{"c":91,"r":10},{"c":92,"r":10},{"c":93,"r":10},{"c":94,"r":10},{"c":95,"r":10},{"c":96,"r":10},{"c":97,"r":10},{"c":98,"r":10},{"c":99,"r":10},{"c":100,"r":10},{"c":101,"r":10},{"c":102,"r":10},{"c":103,"r":10},{"c":104,"r":10},{"c":105,"r":10},{"c":106,"r":10},{"c":107,"r":10},{"c":108,"r":10},{"c":109,"r":10},{"c":110,"r":10},{"c":111,"r":10},{"c":112,"r":10},{"c":113,"r":10},{"c":114,"r":10},{"c":115,"r":10},{"c":116,"r":10},{"c":117,"r":10},{"c":118,"r":10},{"c":119,"r":10},{"c":120,"r":10},{"c":121,"r":10},{"c":122,"r":10},{"c":123,"r":10},{"c":124,"r":10},{"c":125,"r":10},{"c":126,"r":10},{"c":127,"r":10},{"c":74,"r":11},{"c":75,"r":11},{"c":76,"r":11},{"c":78,"r":11},{"c":79,"r":11},{"c":80,"r":11},{"c":81,"r":11},{"c":82,"r":11},{"c":83,"r":11},{"c":84,"r":11},{"c":85,"r":11},{"c":86,"r":11},{"c":87,"r":11},{"c":90,"r":11},{"c":91,"r":11},{"c":92,"r":11},{"c":93,"r":11},{"c":94,"r":11},{"c":95,"r":11},{"c":96,"r":11},{"c":97,"r":11},{"c":98,"r":11},{"c":99,"r":11},{"c":100,"r":11},{"c":101,"r":11},{"c":102,"r":11},{"c":103,"r":11},{"c":104,"r":11},{"c":105,"r":11},{"c":106,"r":11},{"c":107,"r":11},{"c":108,"r":11},{"c":109,"r":11},{"c":110,"r":11},{"c":111,"r":11},{"c":112,"r":11},{"c":113,"r":11},{"c":114,"r":11},{"c":115,"r":11},{"c":116,"r":11},{"c":117,"r":11},{"c":118,"r":11},{"c":119,"r":11},{"c":120,"r":11},{"c":121,"r":11},{"c":122,"r":11},{"c":123,"r":11},{"c":124,"r":11},{"c":125,"r":11},{"c":126,"r":11},{"c":127,"r":11},{"c":74,"r":12},{"c":77,"r":12},{"c":78,"r":12},{"c":79,"r":12},{"c":80,"r":12},{"c":81,"r":12},{"c":82,"r":12},{"c":83,"r":12},{"c":84,"r":12},{"c":85,"r":12},{"c":86,"r":12},{"c":87,"r":12},{"c":88,"r":12},{"c":89,"r":12},{"c":90,"r":12},{"c":91,"r":12},{"c":92,"r":12},{"c":93,"r":12},{"c":94,"r":12},{"c":95,"r":12},{"c":96,"r":12},{"c":97,"r":12},{"c":98,"r":12},{"c":99,"r":12},{"c":100,"r":12},{"c":101,"r":12},{"c":102,"r":12},{"c":103,"r":12},{"c":104,"r":12},{"c":105,"r":12},{"c":106,"r":12},{"c":107,"r":12},{"c":108,"r":12},{"c":109,"r":12},{"c":110,"r":12},{"c":111,"r":12},{"c":112,"r":12},{"c":113,"r":12},{"c":114,"r":12},{"c":115,"r":12},{"c":116,"r":12},{"c":117,"r":12},{"c":118,"r":12},{"c":119,"r":12},{"c":120,"r":12},{"c":121,"r":12},{"c":122,"r":12},{"c":123,"r":12},{"c":124,"r":12},{"c":125,"r":12},{"c":126,"r":12},{"c":73,"r":13},{"c":74,"r":13},{"c":75,"r":13},{"c":76,"r":13},{"c":77,"r":13},{"c":78,"r":13},{"c":79,"r":13},{"c":80,"r":13},{"c":81,"r":13},{"c":82,"r":13},{"c":83,"r":13},{"c":84,"r":13},{"c":85,"r":13},{"c":86,"r":13},{"c":87,"r":13},{"c":88,"r":13},{"c":89,"r":13},{"c":90,"r":13},{"c":91,"r":13},{"c":92,"r":13},{"c":93,"r":13},{"c":94,"r":13},{"c":95,"r":13},{"c":96,"r":13},{"c":97,"r":13},{"c":98,"r":13},{"c":99,"r":13},{"c":100,"r":13},{"c":101,"r":13},{"c":102,"r":13},{"c":103,"r":13},{"c":104,"r":13},{"c":105,"r":13},{"c":106,"r":13},{"c":107,"r":13},{"c":108,"r":13},{"c":109,"r":13},{"c":110,"r":13},{"c":111,"r":13},{"c":112,"r":13},{"c":113,"r":13},{"c":114,"r":13},{"c":115,"r":13},{"c":116,"r":13},{"c":117,"r":13},{"c":118,"r":13},{"c":119,"r":13},{"c":120,"r":13},{"c":122,"r":13},{"c":123,"r":13},{"c":124,"r":13},{"c":125,"r":13},{"c":126,"r":13},{"c":73,"r":14},{"c":74,"r":14},{"c":75,"r":14},{"c":76,"r":14},{"c":77,"r":14},{"c":78,"r":14},{"c":79,"r":14},{"c":80,"r":14},{"c":81,"r":14},{"c":82,"r":14},{"c":83,"r":14},{"c":84,"r":14},{"c":85,"r":14},{"c":86,"r":14},{"c":87,"r":14},{"c":88,"r":14},{"c":89,"r":14},{"c":90,"r":14},{"c":91,"r":14},{"c":92,"r":14},{"c":93,"r":14},{"c":94,"r":14},{"c":95,"r":14},{"c":96,"r":14},{"c":97,"r":14},{"c":98,"r":14},{"c":99,"r":14},{"c":100,"r":14},{"c":101,"r":14},{"c":102,"r":14},{"c":103,"r":14},{"c":104,"r":14},{"c":105,"r":14},{"c":106,"r":14},{"c":107,"r":14},{"c":108,"r":14},{"c":109,"r":14},{"c":110,"r":14},{"c":111,"r":14},{"c":112,"r":14},{"c":113,"r":14},{"c":114,"r":14},{"c":115,"r":14},{"c":116,"r":14},{"c":117,"r":14},{"c":118,"r":14},{"c":119,"r":14},{"c":121,"r":14},{"c":122,"r":14},{"c":123,"r":14},{"c":71,"r":15},{"c":72,"r":15},{"c":73,"r":15},{"c":74,"r":15},{"c":75,"r":15},{"c":76,"r":15},{"c":77,"r":15},{"c":78,"r":15},{"c":79,"r":15},{"c":80,"r":15},{"c":81,"r":15},{"c":82,"r":15},{"c":83,"r":15},{"c":84,"r":15},{"c":85,"r":15},{"c":86,"r":15},{"c":87,"r":15},{"c":88,"r":15},{"c":89,"r":15},{"c":90,"r":15},{"c":91,"r":15},{"c":92,"r":15},{"c":93,"r":15},{"c":94,"r":15},{"c":95,"r":15},{"c":96,"r":15},{"c":97,"r":15},{"c":98,"r":15},{"c":99,"r":15},{"c":100,"r":15},{"c":101,"r":15},{"c":102,"r":15},{"c":103,"r":15},{"c":104,"r":15},{"c":105,"r":15},{"c":106,"r":15},{"c":107,"r":15},{"c":108,"r":15},{"c":109,"r":15},{"c":110,"r":15},{"c":111,"r":15},{"c":120,"r":15},{"c":70,"r":16},{"c":71,"r":16},{"c":72,"r":16},{"c":73,"r":16},{"c":74,"r":16},{"c":75,"r":16},{"c":76,"r":16},{"c":77,"r":16},{"c":78,"r":16},{"c":79,"r":16},{"c":80,"r":16},{"c":81,"r":16},{"c":82,"r":16},{"c":83,"r":16},{"c":84,"r":16},{"c":85,"r":16},{"c":86,"r":16},{"c":87,"r":16},{"c":88,"r":16},{"c":89,"r":16},{"c":90,"r":16},{"c":91,"r":16},{"c":92,"r":16},{"c":93,"r":16},{"c":94,"r":16},{"c":95,"r":16},{"c":96,"r":16},{"c":97,"r":16},{"c":98,"r":16},{"c":99,"r":16},{"c":100,"r":16},{"c":101,"r":16},{"c":102,"r":16},{"c":103,"r":16},{"c":104,"r":16},{"c":105,"r":16},{"c":106,"r":16},{"c":107,"r":16},{"c":108,"r":16},{"c":109,"r":16},{"c":110,"r":16},{"c":111,"r":16},{"c":119,"r":16},{"c":120,"r":16},{"c":70,"r":17},{"c":71,"r":17},{"c":72,"r":17},{"c":73,"r":17},{"c":74,"r":17},{"c":75,"r":17},{"c":76,"r":17},{"c":77,"r":17},{"c":78,"r":17},{"c":79,"r":17},{"c":80,"r":17},{"c":81,"r":17},{"c":82,"r":17},{"c":83,"r":17},{"c":84,"r":17},{"c":85,"r":17},{"c":86,"r":17},{"c":87,"r":17},{"c":88,"r":17},{"c":89,"r":17},{"c":90,"r":17},{"c":91,"r":17},{"c":92,"r":17},{"c":93,"r":17},{"c":94,"r":17},{"c":95,"r":17},{"c":96,"r":17},{"c":97,"r":17},{"c":98,"r":17},{"c":99,"r":17},{"c":100,"r":17},{"c":101,"r":17},{"c":102,"r":17},{"c":103,"r":17},{"c":104,"r":17},{"c":107,"r":17},{"c":108,"r":17},{"c":109,"r":17},{"c":110,"r":17},{"c":111,"r":17},{"c":119,"r":17},{"c":120,"r":17},{"c":70,"r":18},{"c":71,"r":18},{"c":72,"r":18},{"c":73,"r":18},{"c":74,"r":18},{"c":75,"r":18},{"c":76,"r":18},{"c":77,"r":18},{"c":78,"r":18},{"c":79,"r":18},{"c":80,"r":18},{"c":81,"r":18},{"c":82,"r":18},{"c":83,"r":18},{"c":84,"r":18},{"c":85,"r":18},{"c":86,"r":18},{"c":87,"r":18},{"c":88,"r":18},{"c":89,"r":18},{"c":90,"r":18},{"c":91,"r":18},{"c":92,"r":18},{"c":93,"r":18},{"c":94,"r":18},{"c":95,"r":18},{"c":96,"r":18},{"c":97,"r":18},{"c":98,"r":18},{"c":99,"r":18},{"c":100,"r":18},{"c":101,"r":18},{"c":102,"r":18},{"c":103,"r":18},{"c":104,"r":18},{"c":108,"r":18},{"c":109,"r":18},{"c":110,"r":18},{"c":111,"r":18},{"c":112,"r":18},{"c":113,"r":18},{"c":114,"r":18},{"c":119,"r":18},{"c":70,"r":19},{"c":71,"r":19},{"c":72,"r":19},{"c":73,"r":19},{"c":74,"r":19},{"c":75,"r":19},{"c":76,"r":19},{"c":77,"r":19},{"c":78,"r":19},{"c":79,"r":19},{"c":80,"r":19},{"c":81,"r":19},{"c":82,"r":19},{"c":83,"r":19},{"c":84,"r":19},{"c":85,"r":19},{"c":86,"r":19},{"c":87,"r":19},{"c":88,"r":19},{"c":89,"r":19},{"c":90,"r":19},{"c":91,"r":19},{"c":92,"r":19},{"c":93,"r":19},{"c":94,"r":19},{"c":95,"r":19},{"c":97,"r":19},{"c":98,"r":19},{"c":99,"r":19},{"c":100,"r":19},{"c":101,"r":19},{"c":102,"r":19},{"c":103,"r":19},{"c":104,"r":19},{"c":109,"r":19},{"c":110,"r":19},{"c":111,"r":19},{"c":112,"r":19},{"c":114,"r":19},{"c":118,"r":19},{"c":70,"r":20},{"c":71,"r":20},{"c":72,"r":20},{"c":73,"r":20},{"c":74,"r":20},{"c":76,"r":20},{"c":78,"r":20},{"c":79,"r":20},{"c":80,"r":20},{"c":81,"r":20},{"c":82,"r":20},{"c":83,"r":20},{"c":84,"r":20},{"c":85,"r":20},{"c":86,"r":20},{"c":87,"r":20},{"c":88,"r":20},{"c":89,"r":20},{"c":90,"r":20},{"c":91,"r":20},{"c":92,"r":20},{"c":93,"r":20},{"c":94,"r":20},{"c":98,"r":20},{"c":99,"r":20},{"c":100,"r":20},{"c":101,"r":20},{"c":102,"r":20},{"c":103,"r":20},{"c":104,"r":20},{"c":110,"r":20},{"c":111,"r":20},{"c":112,"r":20},{"c":114,"r":20},{"c":70,"r":21},{"c":71,"r":21},{"c":72,"r":21},{"c":73,"r":21},{"c":76,"r":21},{"c":78,"r":21},{"c":79,"r":21},{"c":80,"r":21},{"c":81,"r":21},{"c":82,"r":21},{"c":85,"r":21},{"c":86,"r":21},{"c":87,"r":21},{"c":88,"r":21},{"c":89,"r":21},{"c":90,"r":21},{"c":91,"r":21},{"c":92,"r":21},{"c":93,"r":21},{"c":99,"r":21},{"c":100,"r":21},{"c":101,"r":21},{"c":102,"r":21},{"c":111,"r":21},{"c":69,"r":22},{"c":70,"r":22},{"c":71,"r":22},{"c":72,"r":22},{"c":76,"r":22},{"c":77,"r":22},{"c":78,"r":22},{"c":93,"r":22},{"c":69,"r":23},{"c":70,"r":23},{"c":77,"r":23},{"c":78,"r":23},{"c":69,"r":24},{"c":70,"r":24},{"c":69,"r":25}],"AP":[{"c":95,"r":32},{"c":96,"r":32},{"c":97,"r":32},{"c":98,"r":32},{"c":99,"r":32},{"c":100,"r":32},{"c":101,"r":32},{"c":102,"r":32},{"c":103,"r":32},{"c":96,"r":33},{"c":97,"r":33},{"c":98,"r":33},{"c":99,"r":33},{"c":100,"r":33},{"c":96,"r":34},{"c":97,"r":34},{"c":98,"r":34},{"c":99,"r":34},{"c":100,"r":34},{"c":96,"r":35},{"c":97,"r":35},{"c":98,"r":35},{"c":99,"r":35},{"c":100,"r":35},{"c":96,"r":36},{"c":97,"r":36},{"c":98,"r":36},{"c":100,"r":36},{"c":101,"r":36},{"c":99,"r":37},{"c":100,"r":37},{"c":101,"r":37},{"c":105,"r":37},{"c":99,"r":38},{"c":100,"r":38},{"c":101,"r":38},{"c":105,"r":38},{"c":98,"r":39},{"c":100,"r":39},{"c":106,"r":39},{"c":98,"r":40},{"c":98,"r":41},{"c":99,"r":41},{"c":104,"r":41},{"c":104,"r":42},{"c":104,"r":43},{"c":104,"r":44},{"c":106,"r":45},{"c":110,"r":45},{"c":111,"r":45},{"c":105,"r":46},{"c":106,"r":46},{"c":112,"r":46},{"c":113,"r":46},{"c":112,"r":47},{"c":113,"r":47},{"c":114,"r":47},{"c":112,"r":48},{"c":113,"r":48},{"c":115,"r":48},{"c":116,"r":48},{"c":116,"r":49},{"c":110,"r":50},{"c":111,"r":50},{"c":114,"r":50},{"c":108,"r":51},{"c":110,"r":51},{"c":111,"r":51},{"c":114,"r":51},{"c":108,"r":52},{"c":109,"r":52},{"c":110,"r":52},{"c":111,"r":52},{"c":112,"r":52},{"c":113,"r":52},{"c":114,"r":52},{"c":107,"r":53},{"c":108,"r":53},{"c":109,"r":53},{"c":110,"r":53},{"c":111,"r":53},{"c":112,"r":53},{"c":113,"r":53},{"c":114,"r":53},{"c":106,"r":54},{"c":107,"r":54},{"c":108,"r":54},{"c":109,"r":54},{"c":110,"r":54},{"c":111,"r":54},{"c":112,"r":54},{"c":113,"r":54},{"c":114,"r":54},{"c":115,"r":54},{"c":104,"r":55},{"c":105,"r":55},{"c":106,"r":55},{"c":107,"r":55},{"c":108,"r":55},{"c":109,"r":55},{"c":110,"r":55},{"c":111,"r":55},{"c":112,"r":55},{"c":113,"r":55},{"c":114,"r":55},{"c":115,"r":55},{"c":116,"r":55},{"c":103,"r":56},{"c":104,"r":56},{"c":105,"r":56},{"c":106,"r":56},{"c":107,"r":56},{"c":108,"r":56},{"c":109,"r":56},{"c":110,"r":56},{"c":111,"r":56},{"c":112,"r":56},{"c":113,"r":56},{"c":114,"r":56},{"c":115,"r":56},{"c":116,"r":56},{"c":117,"r":56},{"c":104,"r":57},{"c":105,"r":57},{"c":106,"r":57},{"c":107,"r":57},{"c":108,"r":57},{"c":109,"r":57},{"c":110,"r":57},{"c":111,"r":57},{"c":112,"r":57},{"c":113,"r":57},{"c":114,"r":57},{"c":115,"r":57},{"c":116,"r":57},{"c":117,"r":57},{"c":104,"r":58},{"c":105,"r":58},{"c":106,"r":58},{"c":107,"r":58},{"c":108,"r":58},{"c":109,"r":58},{"c":110,"r":58},{"c":111,"r":58},{"c":112,"r":58},{"c":113,"r":58},{"c":114,"r":58},{"c":115,"r":58},{"c":116,"r":58},{"c":117,"r":58},{"c":104,"r":59},{"c":105,"r":59},{"c":106,"r":59},{"c":107,"r":59},{"c":108,"r":59},{"c":109,"r":59},{"c":110,"r":59},{"c":111,"r":59},{"c":112,"r":59},{"c":113,"r":59},{"c":114,"r":59},{"c":115,"r":59},{"c":116,"r":59},{"c":117,"r":59},{"c":104,"r":60},{"c":105,"r":60},{"c":106,"r":60},{"c":111,"r":60},{"c":112,"r":60},{"c":113,"r":60},{"c":114,"r":60},{"c":115,"r":60},{"c":116,"r":60},{"c":104,"r":61},{"c":105,"r":61},{"c":112,"r":61},{"c":113,"r":61},{"c":114,"r":61},{"c":115,"r":61},{"c":116,"r":61},{"c":113,"r":62},{"c":114,"r":62},{"c":115,"r":62},{"c":116,"r":62},{"c":125,"r":62},{"c":126,"r":62},{"c":114,"r":63},{"c":115,"r":63},{"c":125,"r":63},{"c":126,"r":63},{"c":125,"r":64},{"c":115,"r":65},{"c":124,"r":65},{"c":125,"r":65},{"c":123,"r":66},{"c":124,"r":66},{"c":123,"r":67}],"panels":[{"n":"North America","x1":5.45,"x2":21.75,"y1":26.56,"y2":33.61,"col":"#a8d177"},{"n":"Latin America","x1":5.45,"x2":21.75,"y1":38.44,"y2":45.5,"col":"#6eb52c"},{"n":"Western Europe","x1":51.59,"x2":70.34,"y1":8.17,"y2":15.23,"col":"#6f2c73"},{"n":"Central and Eastern Europe","x1":85.34,"x2":107.35,"y1":-1.67,"y2":5.39,"col":"#5a0a5c"},{"n":"Middle East","x1":85.34,"x2":103.12,"y1":24.33,"y2":31.38,"col":"#74b6de"},{"n":"India","x1":85.34,"x2":103.12,"y1":41.23,"y2":48.28,"col":"#438280"},{"n":"Africa","x1":51.59,"x2":68.55,"y1":41.23,"y2":48.28,"col":"#0097cc"},{"n":"China","x1":116.81,"x2":133.12,"y1":26.56,"y2":33.61,"col":"#00665f"},{"n":"APAC","x1":118.44,"x2":135.07,"y1":38.44,"y2":45.5,"col":"#005548"}],"circles":[{"n":"North America","p":"106%","c":1.91,"r":30.03,"col":"#a8d177"},{"n":"Latin America","p":"108%","c":1.91,"r":41.97,"col":"#6eb52c"},{"n":"Western Europe","p":"124%","c":49.03,"r":11.64,"col":"#6f2c73"},{"n":"Central and Eastern Europe","p":"143%","c":83.22,"r":1.86,"col":"#5a0a5c"},{"n":"Middle East","p":"116%","c":83.27,"r":27.91,"col":"#74b6de"},{"n":"India","p":"88%","c":83.27,"r":44.82,"col":"#438280"},{"n":"Africa","p":"81%","c":49.03,"r":44.82,"col":"#0097cc"},{"n":"China","p":"97%","c":114.36,"r":30.08,"col":"#00665f"},{"n":"APAC","p":"114%","c":115.79,"r":42.02,"col":"#005548"}],"names":[{"t":"North","c":8.14,"r":29.32},{"t":"America","c":8.14,"r":32.57},{"t":"Latin","c":8.14,"r":41.3},{"t":"America","c":8.14,"r":44.55},{"t":"Western","c":55.13,"r":11.08},{"t":"Europe","c":55.13,"r":14.3},{"t":"Central and","c":89.36,"r":1.17},{"t":"Eastern Europe","c":89.36,"r":4.4},{"t":"Middle East","c":89.47,"r":29.03},{"t":"India","c":89.47,"r":45.88},{"t":"Africa","c":55.23,"r":45.74},{"t":"China","c":120.23,"r":31.1},{"t":"APAC*","c":121.8,"r":42.95}],"notes":[{"t":"*(excluding China","c":134.9,"r":48.41},{"t":"and India)","c":134.9,"r":50.88}]},"encoding":{"x":{"field":"c","type":"quantitative","scale":{"domain":[-14.447,143.72],"nice":false,"zero":false},"axis":null},"y":{"field":"r","type":"quantitative","scale":{"domain":[-24.513,76.88],"reverse":true,"nice":false,"zero":false},"axis":null}},"layer":[{"data":{"name":"NA"},"mark":{"type":"circle","size":24,"opacity":1,"color":"#a8d177","xOffset":-3}},{"data":{"name":"LA"},"mark":{"type":"circle","size":24,"opacity":1,"color":"#6eb52c","xOffset":-3}},{"data":{"name":"WE"},"mark":{"type":"circle","size":24,"opacity":1,"color":"#6f2c73"}},{"data":{"name":"CE"},"mark":{"type":"circle","size":24,"opacity":1,"color":"#5a0a5c"}},{"data":{"name":"AF"},"mark":{"type":"circle","size":24,"opacity":1,"color":"#0097cc"}},{"data":{"name":"ME"},"mark":{"type":"circle","size":24,"opacity":1,"color":"#74b6de"}},{"data":{"name":"IN"},"mark":{"type":"circle","size":24,"opacity":1,"color":"#438280"}},{"data":{"name":"CN"},"mark":{"type":"circle","size":24,"opacity":1,"color":"#00665f"}},{"data":{"name":"AP"},"mark":{"type":"circle","size":24,"opacity":1,"color":"#005548"}},{"data":{"name":"panels"},"mark":{"type":"rect","cornerRadius":4,"stroke":"white","strokeWidth":1},"encoding":{"x":{"field":"x1","type":"quantitative"},"x2":{"field":"x2"},"y":{"field":"y1","type":"quantitative"},"y2":{"field":"y2"},"color":{"field":"col","type":"nominal","scale":null}}},{"data":{"name":"circles"},"mark":{"type":"circle","size":3295,"opacity":1,"stroke":"white","strokeWidth":2},"encoding":{"color":{"field":"col","type":"nominal","scale":null}}},{"data":{"name":"circles"},"mark":{"type":"text","fontSize":17,"color":"white","baseline":"middle","align":"center"},"encoding":{"text":{"field":"p"}}},{"data":{"name":"names"},"mark":{"type":"text","fontSize":14.5,"color":"white","baseline":"alphabetic","align":"left"},"encoding":{"text":{"field":"t"}}},{"data":{"name":"notes"},"mark":{"type":"text","fontSize":10.5,"color":"#a9a9a9","baseline":"alphabetic","align":"right"},"encoding":{"text":{"field":"t"}}}]}
